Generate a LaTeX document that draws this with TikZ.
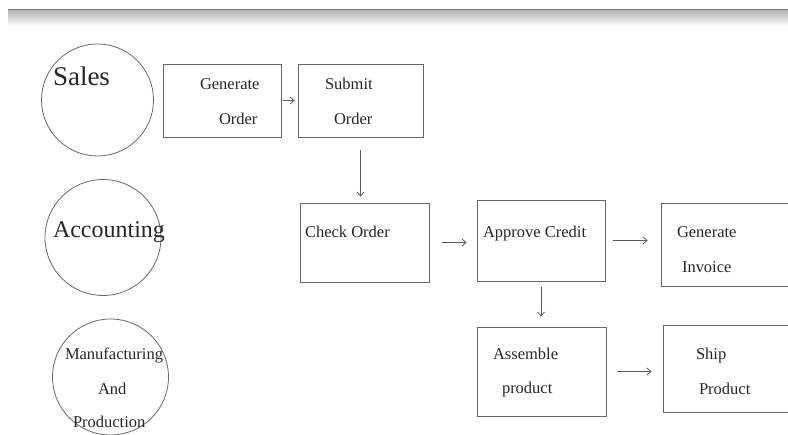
\documentclass[tikz,border=0pt]{standalone}
\usepackage{fontspec}
\usetikzlibrary{arrows.meta}
\setmainfont{Liberation Serif}
\newcommand{\textat}[3]{\makebox[0pt][l]{\hspace*{#1}\raisebox{#2}[0pt][0pt]{#3}}}

\begin{document}
\begin{tikzpicture}[x=1pt, y=-1pt,
		dept/.style={draw=black!60, line width=0.8pt, circle, inner sep=0pt, minimum size=#1, font=\fontsize{24}{29}\selectfont, text=black!85},
		procbox/.style={draw=black!60, line width=0.8pt, rectangle, inner sep=0pt, font=\fontsize{16.5}{20}\selectfont, text=black!85},
		flow/.style={draw=black!65, -{Straight Barb[length=4pt,width=7pt]}, line width=0.8pt}]
		\useasboundingbox (0,0) rectangle (788,435);
		\clip (0,0) rectangle (788,435);
		\shade[top color=black!30, bottom color=white] (8,10) rectangle (788,26);
		\draw[black!55, line width=1.5pt] (8,9.5) -- (788,9.5);
		% departments
		\node[dept=112pt, font=\fontsize{27}{32}\selectfont] (sales) at (97.5,100) {\textat{-44.5pt}{14pt}{Sales}};
		\node[dept=116pt] (accounting) at (103,237.5) {\textat{-50pt}{0pt}{Accounting}};
		\node[dept=116pt, font=\fontsize{16.5}{20}\selectfont] (manufacturing) at (110.5,377) {\textat{-45.5pt}{17pt}{Manufacturing}\textat{-12.5pt}{-18pt}{And}\textat{-37.5pt}{-51pt}{Production}};
		% process steps
		\node[procbox, minimum width=118pt, minimum height=73pt] (genorder) at (222,100.5) {\textat{-22pt}{10.5pt}{Generate}\textat{-3pt}{-24.5pt}{Order}};
		\node[procbox, minimum width=125pt, minimum height=73pt] (submit) at (360.5,100.5) {\textat{-35.5pt}{10.5pt}{Submit}\textat{-26.5pt}{-24.5pt}{Order}};
		\node[procbox, minimum width=129pt, minimum height=79pt] (check) at (364.5,242.5) {\textat{-59.5pt}{4.5pt}{Check Order}};
		\node[procbox, minimum width=128pt, minimum height=81pt] (approve) at (541,240.5) {\textat{-58pt}{2.5pt}{Approve Credit}};
		\node[procbox, minimum width=130pt, minimum height=83pt] (invoice) at (726,244.5) {\textat{-49pt}{6.5pt}{Generate}\textat{-44pt}{-28.5pt}{Invoice}};
		\node[procbox, minimum width=129pt, minimum height=89pt] (assemble) at (541.5,371.5) {\textat{-48.5pt}{11.5pt}{Assemble}\textat{-39.5pt}{-22.5pt}{product}};
		\node[procbox, minimum width=130pt, minimum height=87pt] (ship) at (728,368.5) {\textat{-32pt}{8.5pt}{Ship}\textat{-29pt}{-26.5pt}{Product}};
		% flow
		\draw[flow, shorten <=2pt, shorten >=3pt] (genorder.east) -- (submit.west);
		\draw[flow, shorten <=13pt, shorten >=6pt] (submit.south) -- (submit.south |- check.north);
		\draw[flow, shorten <=13pt, shorten >=10pt] (check.east) -- (check.east -| approve.west);
		\draw[flow, shorten <=8pt, shorten >=13pt] (approve.east) -- (approve.east -| invoice.west);
		\draw[flow, shorten <=6pt, shorten >=10pt] (approve.south) -- (approve.south |- assemble.north);
		\draw[flow, shorten <=11pt, shorten >=11pt] (assemble.east) -- (assemble.east -| ship.west);
\end{tikzpicture}
\end{document}
